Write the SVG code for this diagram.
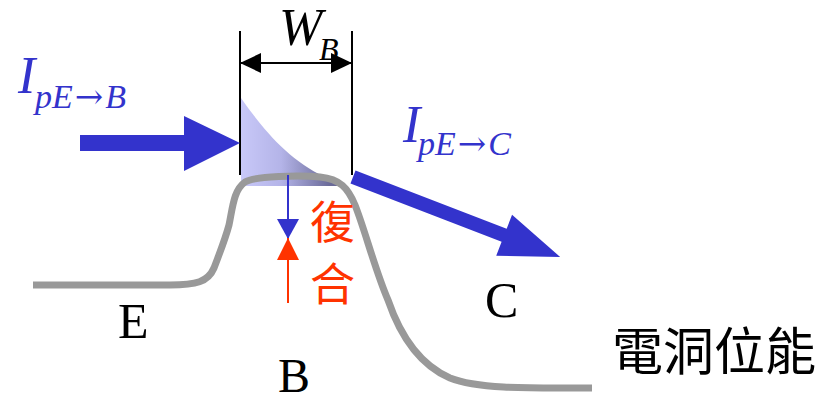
<svg xmlns="http://www.w3.org/2000/svg" width="826" height="398" viewBox="0 0 826 398">
<defs>
<linearGradient id="g" x1="241" y1="0" x2="330" y2="0" gradientUnits="userSpaceOnUse">
<stop offset="0" stop-color="#c8c8f8"/>
<stop offset="0.45" stop-color="#b4b4e8"/>
<stop offset="1" stop-color="#6a6a98"/>
</linearGradient>
<marker id="ah" viewBox="0 0 21 20" refX="21" refY="10" markerWidth="21" markerHeight="20" markerUnits="userSpaceOnUse" orient="auto-start-reverse">
<path d="M0,0 L21,10 L0,20 Z" fill="#000"/>
</marker>
<marker id="bh" viewBox="0 0 20 22" refX="20" refY="11" markerWidth="20" markerHeight="22" markerUnits="userSpaceOnUse" orient="auto">
<path d="M0,0 L20,11 L0,22 Z" fill="#3333cc"/>
</marker>
<marker id="rh" viewBox="0 0 22 22" refX="22" refY="11" markerWidth="22" markerHeight="22" markerUnits="userSpaceOnUse" orient="auto">
<path d="M0,0 L22,11 L0,22 Z" fill="#ff3300"/>
</marker>
</defs>
<style>
.ser{font-family:"Liberation Serif","Times New Roman",serif}
.it{font-style:italic}
.blue{fill:#3333cc}
.arr{font-family:"DejaVu Serif","DejaVu Sans",serif;font-style:normal}
.cjk{font-family:"Noto Sans CJK TC","Noto Sans CJK JP",sans-serif}
</style>
<g id="base-region">
<path d="M241,98 C262,128 288,160 325,177 L340,186 L241,186 Z" fill="url(#g)"/>
</g>
<g id="potential-curve">
<path d="M33,285 L170,285 C196,285 208,282 214,268 C220,252 225,240 229,225 C233,205 234,190 245,182 C255,176 300,175 320,177 C340,179 348,188 355,205 C365,230 375,270 388,300 C400,335 420,365 450,378 C480,390 540,388 592,388" fill="none" stroke="#999999" stroke-width="7"/>
</g>
<g id="connectors">
<line x1="240" y1="31" x2="240" y2="175" stroke="#000" stroke-width="2"/>
<line x1="352" y1="31" x2="352" y2="175" stroke="#000" stroke-width="2"/>
<line x1="240" y1="63" x2="352" y2="63" stroke="#000" stroke-width="2" marker-start="url(#ah)" marker-end="url(#ah)"/>
<polygon points="80,135 184,135 184,116 240,143 184,171 184,151 80,151" fill="#3333cc"/>
<g transform="translate(353,177) rotate(21.1)">
<polygon points="0,-7 162,-7 162,-22 222,0 162,22 162,7 0,7" fill="#3333cc"/>
</g>
<line x1="288" y1="175" x2="288" y2="239" stroke="#3333cc" stroke-width="2" marker-end="url(#bh)"/>
<line x1="288" y1="303" x2="288" y2="238" stroke="#ff3300" stroke-width="2" marker-end="url(#rh)"/>
</g>
<g id="label-WB">
<text x="279" y="45" class="ser it" font-size="52">W</text>
<text x="319" y="60" class="ser it" font-size="32">B</text>
</g>
<g id="label-IpEB">
<text x="18" y="93" class="ser it blue" font-size="52">I</text>
<text x="35" y="108" class="ser it blue" font-size="34">pE<tspan class="arr" font-size="34" dx="2">→</tspan><tspan dx="2">B</tspan></text>
</g>
<g id="label-IpEC">
<text x="403" y="142" class="ser it blue" font-size="52">I</text>
<text x="418" y="155" class="ser it blue" font-size="34">pE<tspan class="arr" font-size="34" dx="2">→</tspan><tspan dx="2">C</tspan></text>
</g>
<g id="label-recomb">
<text x="310" y="239" class="cjk" font-size="45" fill="#ff3300">復</text>
<text x="310" y="301" class="cjk" font-size="45" fill="#ff3300">合</text>
</g>
<g id="label-E"><text x="118" y="338" class="ser" font-size="50">E</text></g>
<g id="label-B"><text x="278" y="392" class="ser" font-size="48">B</text></g>
<g id="label-C"><text x="485" y="317" class="ser" font-size="50">C</text></g>
<g id="label-hole"><text x="612" y="370" class="cjk" font-size="51">電洞位能</text></g>
</svg>
